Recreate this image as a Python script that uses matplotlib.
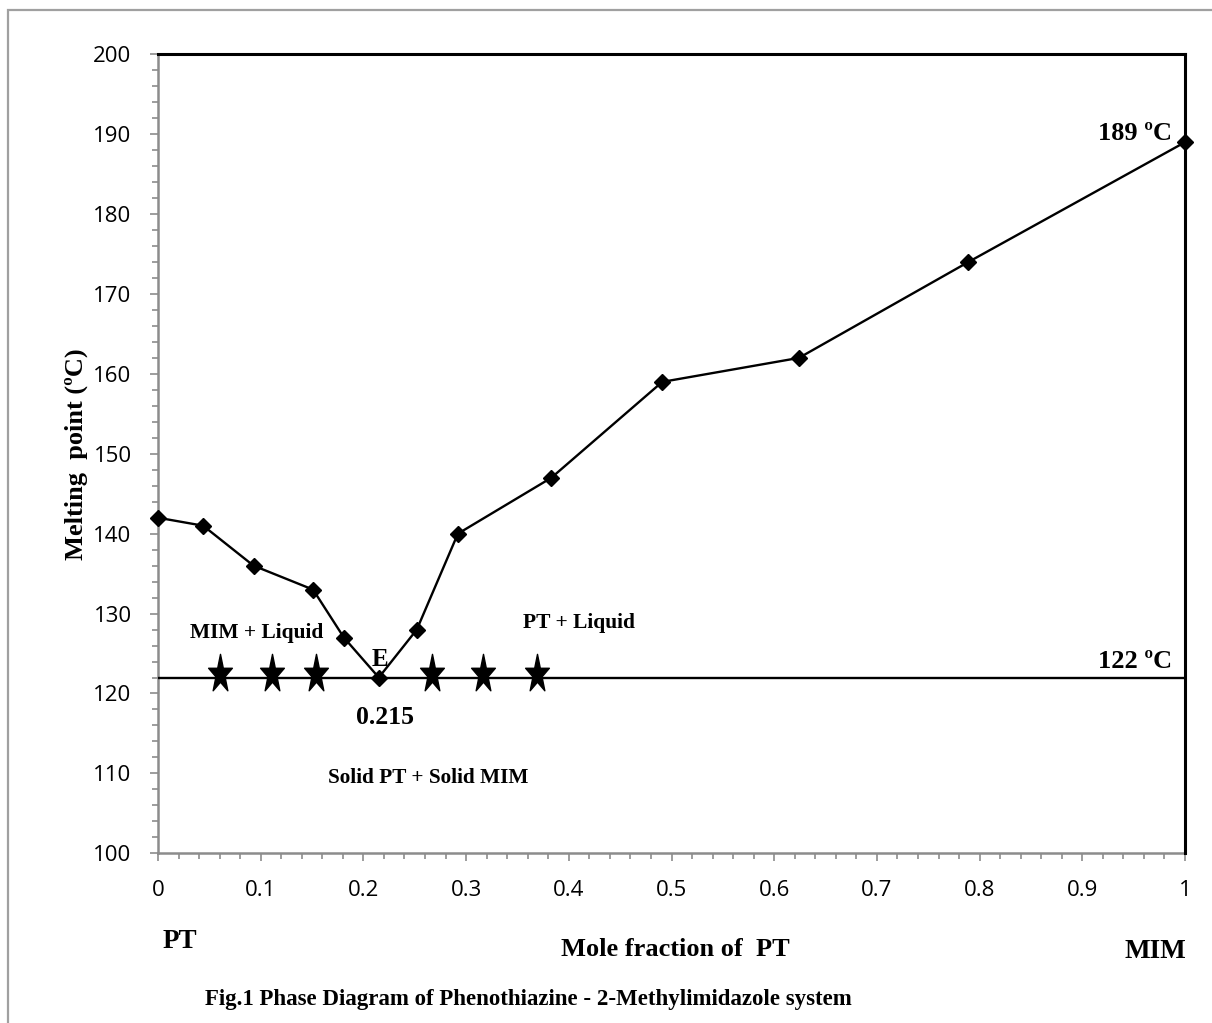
import matplotlib
matplotlib.use("Agg")
import matplotlib.pyplot as plt
from matplotlib.markers import MarkerStyle
from matplotlib.transforms import Affine2D
from matplotlib.ticker import MultipleLocator
from matplotlib.patches import Rectangle

fraccion_pt = [0, 0.044, 0.093, 0.151, 0.181, 0.215, 0.252, 0.292, 0.383, 0.491, 0.624, 0.789, 1.0]
punto_fusion = [142, 141, 136, 133, 127, 122, 128, 140, 147, 159, 162, 174, 189]
estrellas_x = [0.060, 0.111, 0.154, 0.267, 0.316, 0.369]
eutectico_t = 122
x_ticks = [0, 0.1, 0.2, 0.3, 0.4, 0.5, 0.6, 0.7, 0.8, 0.9, 1]
x_labels = ["0", "0.1", "0.2", "0.3", "0.4", "0.5", "0.6", "0.7", "0.8", "0.9", "1"]
y_ticks = [100, 110, 120, 130, 140, 150, 160, 170, 180, 190, 200]

serif = ["Liberation Serif", "DejaVu Serif"]
gris = "#8c8c8c"

fig = plt.figure(figsize=(12.12, 10.23), dpi=100)
# marco exterior gris
fig.patches.append(Rectangle((8 / 1212, -0.05), 1.1, 1 - 10 / 1023 + 0.05,
                             transform=fig.transFigure, fill=False,
                             edgecolor="#a0a0a0", linewidth=1.6))

ax = fig.add_axes([158 / 1212, 1 - 853.3 / 1023, (1185 - 158) / 1212, (853.3 - 54.3) / 1023])
ax.set_xlim(0, 1)
ax.set_ylim(100, 200)

# línea de liquidus
ax.plot(fraccion_pt, punto_fusion, color="black", linewidth=1.7, marker="D",
        markersize=8.5, zorder=4, clip_on=False)

# isoterma eutéctica
ax.plot([0, 1], [eutectico_t, eutectico_t], color="black", linewidth=1.7, zorder=3)

# estrellas alargadas
base = MarkerStyle("*")
estrella = base.get_path().transformed(base.get_transform() + Affine2D().scale(0.62, 1.0))
ax.plot(estrellas_x, [eutectico_t + 0.4] * len(estrellas_x), linestyle="none",
        marker=estrella, markersize=29, color="black", zorder=5)

# bordes del gráfico
ax.plot([0, 1], [200, 200], color="black", linewidth=2.2, clip_on=False, zorder=3)
ax.plot([1, 1], [100, 200], color="black", linewidth=2.2, clip_on=False, zorder=3)
for lado in ["top", "right"]:
    ax.spines[lado].set_visible(False)
for lado in ["left", "bottom"]:
    ax.spines[lado].set_color(gris)
    ax.spines[lado].set_linewidth(1.8)

ax.set_xticks(x_ticks)
ax.set_xticklabels(x_labels)
ax.set_yticks(y_ticks)
ax.xaxis.set_minor_locator(MultipleLocator(0.02))
ax.yaxis.set_minor_locator(MultipleLocator(2))
ax.tick_params(which="major", direction="out", length=6, width=1.2, color=gris,
               labelsize=16, pad=13)
ax.tick_params(which="minor", direction="out", length=4, width=1.2, color=gris)
for lbl in ax.get_xticklabels() + ax.get_yticklabels():
    lbl.set_family(["Open Sans", "DejaVu Sans"])

ax.set_ylabel("Melting  point (ºC)", family=serif, fontweight="bold", fontsize=19,
              labelpad=4)

# anotaciones
def texto(x, y, s, size, ha="center"):
    fig.text(x / 1212, 1 - y / 1023, s, family=serif, fontweight="bold",
             fontsize=size, ha=ha, va="center")

texto(257, 633, "MIM + Liquid", 15.5)
texto(579, 623, "PT + Liquid", 15.5)
texto(380, 659, "E", 18)
texto(385, 718, "0.215", 18.5)
texto(428, 778, "Solid PT + Solid MIM", 15.3)
texto(1172, 133, "189 ºC", 19, ha="right")
texto(1172, 661, "122 ºC", 19, ha="right")
texto(180, 941, "PT", 19.5)
texto(675, 950, "Mole fraction of  PT", 19)
texto(1155, 951, "MIM", 19.5)
texto(205, 1000, "Fig.1 Phase Diagram of Phenothiazine - 2-Methylimidazole system", 16.5, ha="left")

fig.savefig("out.png", dpi=100)
